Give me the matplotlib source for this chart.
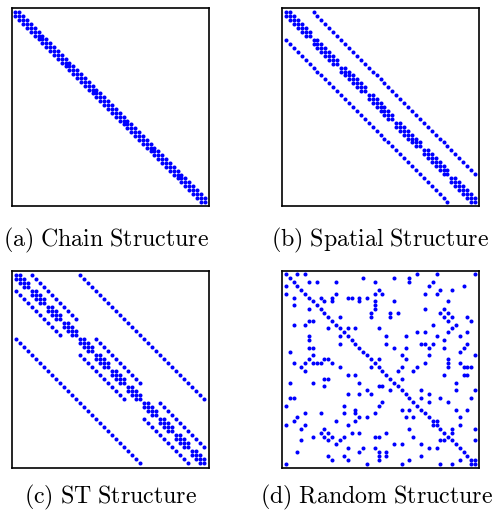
import numpy as np
import matplotlib.pyplot as plt

plt.rcParams['mathtext.fontset'] = 'cm'

# chain graph: every node linked to its neighbours
n_chain = 50
chain_offsets = [-1, 0, 1]

# spatial graph: 7 x 7 lattice, 4-neighbours
spatial_side = 7

# spatio-temporal graph: 4 x 4 lattice repeated over 3 time steps
st_side = 4
st_steps = 3

# random graph: diagonal plus these off-diagonal columns, one list per row
n_rand = 50
rand_cols = [
    [3, 5, 34, 39, 49],
    [20, 28, 32],
    [6, 8, 13, 23, 32, 38],
    [0, 37, 46],
    [24, 40, 43],
    [0, 13, 23, 25, 36, 39],
    [2, 9, 12, 16, 17, 19, 21],
    [10, 12, 19, 23, 28, 42],
    [2, 23],
    [6, 23, 36, 41],
    [22, 27, 29, 40, 42],
    [14, 22, 27, 41, 43, 47],
    [6, 7, 42, 48],
    [2, 5, 38, 44],
    [11, 16, 18, 24, 43],
    [34, 36, 42, 47],
    [6, 14, 26, 31, 39, 45],
    [6, 41],
    [14, 26, 35, 36, 38, 47],
    [6, 7, 28, 31, 37, 41, 46],
    [1, 45],
    [7, 30, 37, 49],
    [6, 10, 11, 24, 31, 42],
    [2, 5, 7, 8, 9, 12, 36, 42, 45],
    [4, 14, 22, 30, 34, 42, 46, 47, 48],
    [5, 29, 33],
    [16, 18, 41, 46, 47],
    [10, 11, 30],
    [1, 7, 19, 44],
    [10, 24, 25],
    [21, 27, 35, 44, 49],
    [16, 19, 22, 37],
    [1, 2, 35, 40, 48],
    [25, 37, 42],
    [0, 15, 24],
    [18, 30, 32, 44, 47],
    [5, 9, 15, 18, 23],
    [3, 19, 21, 31, 33, 45],
    [2, 13, 18, 39],
    [0, 5, 16, 38, 45],
    [4, 10, 32, 43, 49],
    [9, 11, 17, 19, 26, 43],
    [7, 10, 12, 15, 23, 24, 33],
    [4, 11, 14, 40, 41, 49],
    [13, 28, 30, 35],
    [16, 20, 23, 37, 39],
    [3, 19, 24, 26],
    [11, 15, 24, 26, 35],
    [12, 16, 24, 32, 45, 49],
    [0, 21, 30, 40, 43, 48],
]

captions = ["(a) Chain Structure", "(b) Spatial Structure",
            "(c) ST Structure", "(d) Random Structure"]


def chain_matrix(n, offsets):
    M = np.zeros((n, n), dtype=bool)
    for k in offsets:
        M |= np.eye(n, k=k, dtype=bool)
    return M


def lattice_matrix(side, steps=1):
    per = side * side
    n = per * steps
    M = np.eye(n, dtype=bool)
    for t in range(steps):
        for r in range(side):
            for c in range(side):
                i = t * per + r * side + c
                nbrs = []
                if c + 1 < side:
                    nbrs.append(i + 1)
                if r + 1 < side:
                    nbrs.append(i + side)
                if t + 1 < steps:
                    nbrs.append(i + per)
                for j in nbrs:
                    M[i, j] = M[j, i] = True
    return M


def random_matrix(n, cols):
    M = np.eye(n, dtype=bool)
    for i, row in enumerate(cols):
        M[i, row] = True
    return M


mats = [chain_matrix(n_chain, chain_offsets),
        lattice_matrix(spatial_side),
        lattice_matrix(st_side, st_steps),
        random_matrix(n_rand, rand_cols)]

fig = plt.figure(figsize=(4.93, 5.14), dpi=100)

W, H = 493.0, 514.0
boxes = [(11.5, 8.5), (282.0, 8.5), (11.5, 270.5), (282.0, 270.5)]
size = 197.0
cap_pos = [(106, 240), (380, 240), (111, 497), (377, 497)]

for M, (x0, y0), cap, (cx, cy) in zip(mats, boxes, captions, cap_pos):
    ax = fig.add_axes([x0 / W, 1 - (y0 + size) / H, size / W, size / H])
    n = M.shape[0]
    rows, cols = np.nonzero(M)
    ax.plot(cols, rows, 'o', color='#0000ff', markersize=2.9, markeredgewidth=0)
    ax.set_xlim(-1, n)
    ax.set_ylim(n, -1)
    ax.set_xticks([])
    ax.set_yticks([])
    for s in ax.spines.values():
        s.set_linewidth(1.2)
    label = cap.replace(" ", r"\ ")
    fig.text(cx / W, 1 - cy / H, r"$\mathrm{" + label + "}$",
             ha='center', va='center', fontsize=17.2)

plt.savefig("out.png", dpi=100)
